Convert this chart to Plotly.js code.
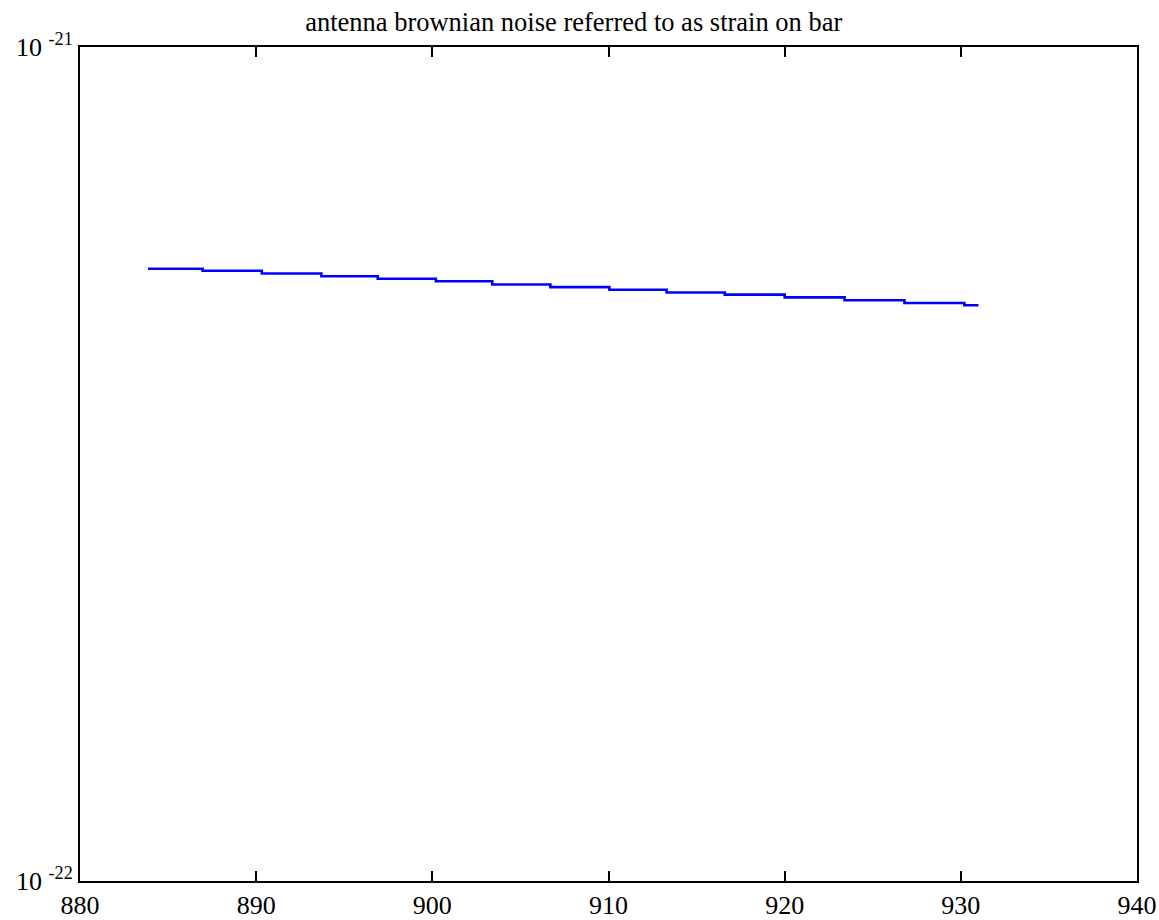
<!DOCTYPE html>
<html>
<head>
<meta charset="utf-8">
<script src="https://cdn.plot.ly/plotly-3.0.1.min.js"></script>
<style>html,body{margin:0;padding:0;background:#fff;}#chart{width:1159px;height:920px;}</style>
</head>
<body>
<div id="chart"></div>
<script>
// Step starts (Hz) and strain levels
const freqStart = [883.86, 886.96, 890.32, 893.70, 896.90, 900.20, 903.40, 906.70, 910.05, 913.30, 916.60, 920.00, 923.40, 926.80, 930.20, 931.00];
const strain    = [5.421e-22, 5.391e-22, 5.351e-22, 5.311e-22, 5.273e-22, 5.237e-22, 5.191e-22, 5.153e-22, 5.117e-22, 5.078e-22, 5.047e-22, 5.010e-22, 4.969e-22, 4.932e-22, 4.901e-22, 4.901e-22];
const xTicks = [880, 890, 900, 910, 920, 930, 940];
const yTicks = [1e-22, 1e-21];
const yTickText = ['10 <sup>-22</sup>', '10 <sup>-21</sup>'];
const titleText = 'antenna brownian noise referred to as strain on bar';

const font = '"Liberation Serif", "Times New Roman", serif';
Plotly.newPlot('chart', [{
  x: freqStart, y: strain, type: 'scatter', mode: 'lines',
  line: {color: '#0000ff', width: 2.6, shape: 'hv'}, hoverinfo: 'skip'
}], {
  width: 1159, height: 920,
  font: {family: font, size: 26, color: '#000'},
  margin: {l: 80, r: 22, t: 47, b: 39},
  paper_bgcolor: '#fff', plot_bgcolor: '#fff',
  showlegend: false,
  title: {text: titleText, font: {family: font, size: 26.5, color: '#000'}, x: 0.495, xanchor: 'center', y: 0.976, yanchor: 'middle'},
  xaxis: {range: [880, 940], tickvals: xTicks, ticktext: xTicks.map(String), tickangle: 0,
    showgrid: false, zeroline: false, showline: true, linecolor: '#000', linewidth: 2, mirror: 'ticks',
    ticks: 'inside', ticklen: 10, tickwidth: 2, tickcolor: '#000',
    tickfont: {family: font, size: 26, color: '#000'}},
  yaxis: {type: 'log', range: [-22, -21], tickvals: yTicks, ticktext: yTickText,
    showgrid: false, zeroline: false, showline: true, linecolor: '#000', linewidth: 2, mirror: 'ticks',
    ticks: 'inside', ticklen: 10, tickwidth: 2, tickcolor: '#000',
    tickfont: {family: font, size: 26, color: '#000'}}
}, {staticPlot: true, displayModeBar: false});
</script>
</body>
</html>
